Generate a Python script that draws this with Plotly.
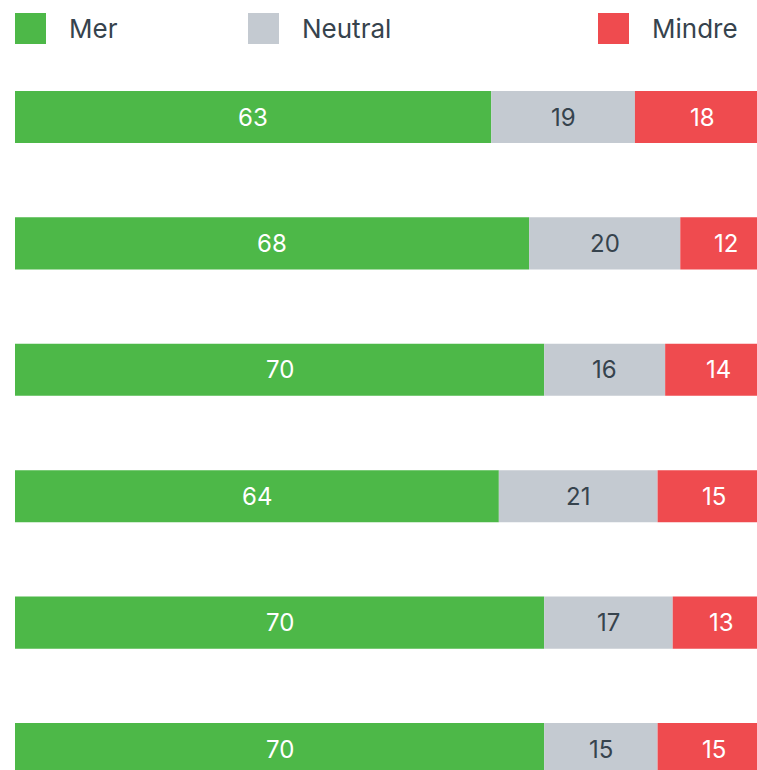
import plotly.graph_objects as go

rows = [0, 1, 2, 3, 4, 5]
mer = [63, 68, 70, 64, 70, 70]
neutral = [19, 20, 16, 21, 17, 15]
mindre = [18, 12, 14, 15, 13, 15]

series_names = ["Mer", "Neutral", "Mindre"]
series_colors = ["#4db848", "#c4cad1", "#ef4b4f"]
label_colors = ["#ffffff", "#36434d", "#ffffff"]
series_values = [mer, neutral, mindre]

FONT = "Inter, Roboto, 'Liberation Sans', sans-serif"
W, H = 757, 770
L = 15

fig = go.Figure()
bases = [0] * len(rows)
annotations = []
for name, color, tcol, vals in zip(series_names, series_colors, label_colors, series_values):
    fig.add_trace(go.Bar(
        x=vals, y=rows, base=bases, orientation="h", name=name,
        marker=dict(color=color, line=dict(width=0)),
        width=0.412, showlegend=False, hoverinfo="skip",
    ))
    for r, b, v in zip(rows, bases, vals):
        annotations.append(dict(
            x=b + v / 2, y=r, xref="x", yref="y", text=str(v), showarrow=False,
            font=dict(family=FONT, size=24, color=tcol), xanchor="center", yanchor="middle",
        ))
    bases = [b + v for b, v in zip(bases, vals)]

# custom legend (spread across top)
legend_sq_px = [15, 248, 598]
legend_txt_px = [67, 300, 650]
plot_w = W - L
shapes = []
for name, color, sx, tx in zip(series_names, series_colors, legend_sq_px, legend_txt_px):
    shapes.append(dict(
        type="rect", xref="paper", yref="paper",
        x0=(sx - L) / plot_w, x1=(sx + 31 - L) / plot_w,
        y0=1 - 44 / H, y1=1 - 13 / H,
        fillcolor=color, line=dict(width=0),
    ))
    annotations.append(dict(
        x=(tx - L) / plot_w, y=1 - 29 / H, xref="paper", yref="paper",
        text=name, showarrow=False, xanchor="left", yanchor="middle",
        font=dict(family=FONT, size=26, color="#36434d"),
    ))

fig.update_layout(
    width=W, height=H,
    margin=dict(l=L, r=0, t=0, b=0),
    paper_bgcolor="white", plot_bgcolor="white",
    barmode="overlay",
    xaxis=dict(range=[0, (W - L) / 7.56], visible=False, fixedrange=True),
    yaxis=dict(range=[(H - 117) / 126.4, -117 / 126.4], visible=False, fixedrange=True),
    annotations=annotations, shapes=shapes,
)

fig.write_html(
    "out.html",
    config={"displayModeBar": False, "staticPlot": True},
    post_script="document.body.style.margin='0';document.body.style.overflow='hidden';",
)
